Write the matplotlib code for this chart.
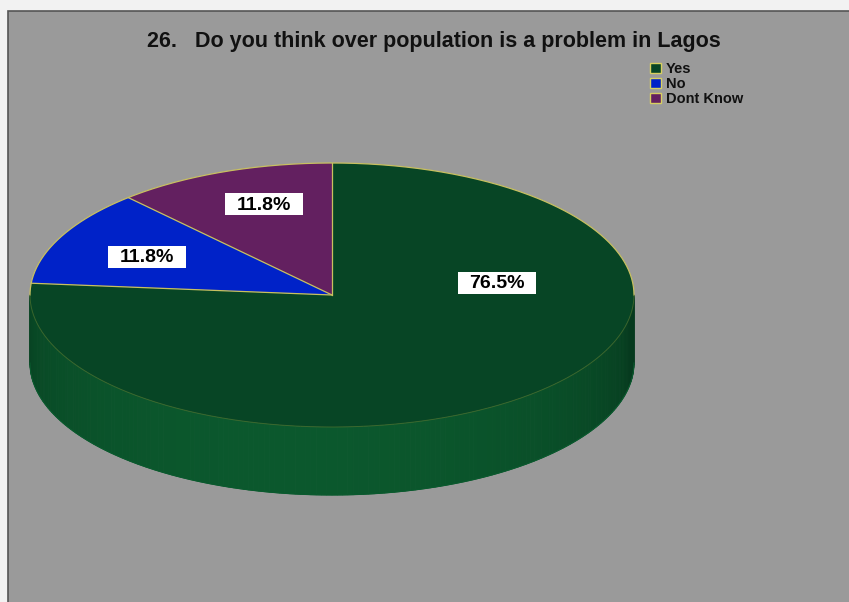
import matplotlib.pyplot as plt
import matplotlib.patches as mpatches
import numpy as np

# data
labels = ["Yes", "No", "Dont Know"]
values = [76.5, 11.8, 11.8]
colors = ["#074525", "#0022c8", "#632060"]
title = "26.   Do you think over population is a problem in Lagos"

# layout (pixels)
W, H = 849, 602
cx, cy, rx, ry, depth = 332, 295, 302, 132, 68
edge = "#c8c060"
label_pos = {"Yes": (497, 283), "No": (147, 257), "Dont Know": (264, 204)}

fig = plt.figure(figsize=(W / 100, H / 100), dpi=100)
fig.patch.set_facecolor("#f2f2f2")
ax = fig.add_axes([0, 0, 1, 1])
ax.set_xlim(0, W)
ax.set_ylim(H, 0)
ax.axis("off")

# chart panel
ax.add_patch(mpatches.Rectangle((8, 11), W, H, facecolor="#9a9a9a", edgecolor="#555555", lw=1.2))


def ell(t, dy=0):
    return cx + rx * np.cos(t), cy - ry * np.sin(t) + dy


# slice angles: counterclockwise from top, Dont Know, No, then Yes
order = [2, 1, 0]
total = sum(values)
start = np.pi / 2
angles = {}
for i in order:
    span = 2 * np.pi * values[i] / total
    angles[i] = (start, start + span)
    start += span

# side of the pie (front half), shaded strips
dark = np.array([6, 58, 30]) / 255
light = np.array([11, 88, 45]) / 255
ts = np.linspace(np.pi, 2 * np.pi, 181)
for k in range(len(ts) - 1):
    t0, t1 = ts[k], ts[k + 1]
    x0, y0 = ell(t0)
    x1, y1 = ell(t1)
    f = np.cos((t0 + t1) / 2 - 1.45 * np.pi)
    f = max(f, 0) ** 0.7
    c = dark + (light - dark) * f
    ax.fill([x0, x1, x1, x0], [y0, y1, y1 + depth, y0 + depth], color=c, lw=0.6, ec=c)
bx, by = ell(ts, depth)
ax.plot(bx, by, color="#0a5a2e", lw=0.8)

# top of the pie
for i in order:
    t0, t1 = angles[i]
    t = np.linspace(t0, t1, 300)
    x, y = ell(t)
    ax.fill(np.r_[cx, x, cx], np.r_[cy, y, cy], color=colors[i], ec="none")
for i in order:
    x0, y0 = ell(angles[i][0])
    ax.plot([cx, x0], [cy, y0], color=edge, lw=0.9)

# outline: bright on the back rim, faint on the front rim
tb = np.linspace(0, np.pi, 300)
ax.plot(*ell(tb), color=edge, lw=0.9)
tf = np.linspace(np.pi, 2 * np.pi, 300)
ax.plot(*ell(tf), color="#5a7a30", lw=0.7, alpha=0.6)

# value labels
for i, name in enumerate(labels):
    lx, ly = label_pos[name]
    ax.add_patch(mpatches.Rectangle((lx - 39, ly - 11), 78, 22, facecolor="white", edgecolor="none"))
    ax.text(lx, ly + 1, f"{values[i]:.1f}%", ha="center", va="center", fontsize=14,
            fontweight="bold", family="Liberation Sans", color="black")

# title
ax.text(434, 42, title, ha="center", va="center", fontsize=15.5, fontweight="bold",
        family="Liberation Sans", color="#111111")

# legend
for k, name in enumerate(labels):
    y = 68 + 15 * k
    ax.add_patch(mpatches.Rectangle((650, y - 5), 11, 10, facecolor=colors[k], edgecolor="#d8d060", lw=1))
    ax.text(666, y + 1, name, ha="left", va="center", fontsize=10.5, fontweight="bold",
            family="Liberation Sans", color="#111111")

fig.savefig("out.png", dpi=100, facecolor=fig.get_facecolor())
